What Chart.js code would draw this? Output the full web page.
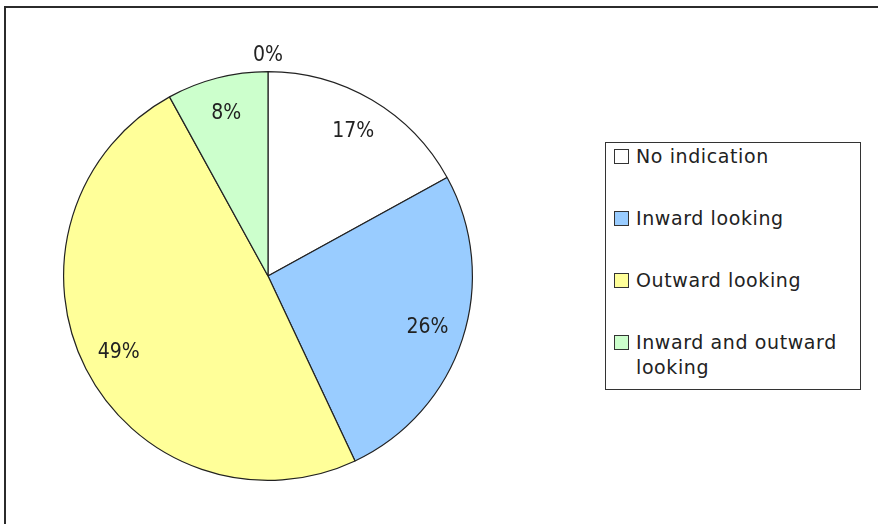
<!DOCTYPE html>
<html>
<head>
<meta charset="utf-8">
<title>Orientation</title>
<script src="https://cdn.jsdelivr.net/npm/chart.js@4.4.1/dist/chart.umd.min.js"></script>
<style>
  html, body { margin: 0; padding: 0; background: #fff; }
  body { width: 878px; height: 524px; position: relative; overflow: hidden; }
  .frame {
    position: absolute; left: 4px; top: 6px; width: 900px; height: 560px;
    border-left: 2px solid #2b2b2b; border-top: 2px solid #2b2b2b;
  }
  .wrap { position: absolute; left: 0; top: 0; width: 878px; height: 524px; }
  #legend {
    position: absolute; left: 605px; top: 142px; width: 238px; height: 237px;
    border: 1.5px solid #333; background: #fff;
    padding: 1px 8px 8px 8px;
    font-family: "DejaVu Sans", sans-serif; font-size: 19px; letter-spacing: 0.6px;
    color: #222;
  }
  #legend ul { list-style: none; margin: 0; padding: 0; }
  #legend li { display: flex; align-items: flex-start; line-height: 25px; margin-bottom: 37px; }
  #legend li:last-child { margin-bottom: 0; }
  #legend .box { flex: none; width: 13px; height: 13px; border: 1px solid #333; margin: 5px 7px 0 0; }
</style>
</head>
<body>
<div class="frame"></div>
<div class="wrap"><canvas id="pieChart"></canvas></div>
<div id="legend"></div>
<script>
// answer categories and their share in percent (the last one is empty and left out of the legend)
const categories = ['No indication', 'Inward looking', 'Outward looking', 'Inward and outward looking', ''];
const shares = [17, 26, 49, 8, 0];
const sliceColors = ['#ffffff', '#99ccff', '#ffff99', '#ccffcc', '#ffffff'];

// percent labels, inside each slice, outside when the slice is empty
const sliceLabels = {
  id: 'sliceLabels',
  afterDatasetsDraw(chart) {
    const ctx = chart.ctx;
    const meta = chart.getDatasetMeta(0);
    ctx.save();
    ctx.font = '21px "DejaVu Sans Condensed", "DejaVu Sans", sans-serif';
    ctx.textAlign = 'center';
    ctx.textBaseline = 'middle';
    ctx.fillStyle = '#222';
    meta.data.forEach((arc, i) => {
      const p = arc.getProps(['x', 'y', 'startAngle', 'endAngle', 'outerRadius'], true);
      const mid = (p.startAngle + p.endAngle) / 2;
      const r = shares[i] === 0 ? p.outerRadius + 16 : p.outerRadius * 0.82;
      ctx.fillText(shares[i] + '%', p.x + Math.cos(mid) * r, p.y + Math.sin(mid) * r);
    });
    ctx.restore();
  }
};

// boxed legend on the right, built from the chart's own legend items
const htmlLegend = {
  id: 'htmlLegend',
  afterUpdate(chart) {
    const items = chart.options.plugins.legend.labels.generateLabels(chart)
      .filter(item => item.text !== '');
    const el = document.getElementById('legend');
    el.innerHTML = '<ul>' + items.map(item =>
      `<li><span class="box" style="background:${item.fillStyle}"></span><span>${item.text}</span></li>`
    ).join('') + '</ul>';
  }
};

new Chart(document.getElementById('pieChart'), {
  type: 'pie',
  data: {
    labels: categories,
    datasets: [{
      data: shares,
      backgroundColor: sliceColors,
      borderColor: '#222',
      borderWidth: 1.2
    }]
  },
  options: {
    responsive: true,
    maintainAspectRatio: false,
    animation: false,
    layout: { padding: { left: 63, top: 71, right: 405, bottom: 43 } },
    plugins: {
      legend: { display: false },
      tooltip: { enabled: false }
    }
  },
  plugins: [sliceLabels, htmlLegend]
});
</script>
</body>
</html>
